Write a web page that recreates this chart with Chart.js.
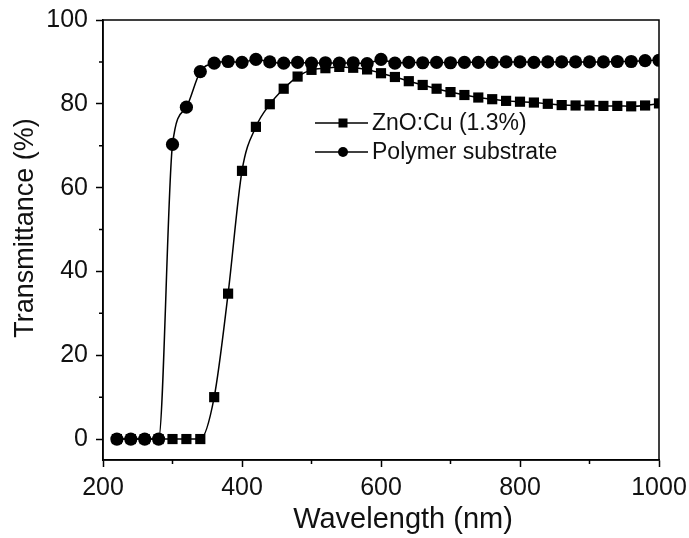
<!DOCTYPE html>
<html>
<head>
<meta charset="utf-8">
<script src="https://cdn.jsdelivr.net/npm/chart.js@4.4.1/dist/chart.umd.min.js"></script>
<style>
  html,body{margin:0;padding:0;background:#fff;}
  #wrap{width:689px;height:538px;}
</style>
</head>
<body>
<div id="wrap"><canvas id="c" width="689" height="538"></canvas></div>
<script>
/* ── data ── */
const wavelength = [220,240,260,280,300,320,340,360,380,400,420,440,460,480,500,520,540,560,580,600,
                    620,640,660,680,700,720,740,760,780,800,820,840,860,880,900,920,940,960,980,1000];
const znoCu   = [0,0,0,0,0,0,0,10.0,34.7,64.0,74.5,79.9,83.6,86.5,88.1,88.5,88.8,88.6,88.2,87.3,
                 86.4,85.4,84.5,83.6,82.8,82.1,81.5,81.1,80.7,80.5,80.3,80.0,79.7,79.6,79.6,79.5,79.5,79.4,79.6,80.1];
const polymer = [0,0,0,0,70.3,79.2,87.7,89.7,90.1,89.9,90.6,90.0,89.7,89.9,89.7,89.8,89.7,89.8,89.6,90.6,
                 89.7,89.9,89.8,89.9,89.8,89.9,89.9,89.9,90.0,90.0,89.9,90.0,90.0,90.0,90.0,90.0,90.1,90.1,90.3,90.4];
const seriesNames = ['ZnO:Cu (1.3%)','Polymer substrate'];
const xTicks = [200,400,600,800,1000];
const xMinor = [300,500,700,900];
const yTicks = [0,20,40,60,80,100];
const yMinor = [10,30,50,70,90];
const xTitle = 'Wavelength (nm)';
const yTitle = 'Transmittance (%)';

const FONT = '"Liberation Sans", Arial, sans-serif';
const INK  = '#111';

const pts = arr => wavelength.map((w,i)=>({x:w, y:arr[i]}));

/* ── frame, minor ticks, titles, legend ── */
const decor = {
  id:'decor',
  afterDraw(chart){
    const {ctx, chartArea:a, scales:{x, y}} = chart;
    ctx.save();
    ctx.strokeStyle='#000'; ctx.lineWidth=1.5;
    ctx.strokeRect(a.left, a.top, a.right-a.left, a.bottom-a.top);
    // minor ticks
    ctx.beginPath();
    yMinor.forEach(v=>{ const p=y.getPixelForValue(v); ctx.moveTo(a.left,p); ctx.lineTo(a.left-4,p); });
    xMinor.forEach(v=>{ const p=x.getPixelForValue(v); ctx.moveTo(p,a.bottom); ctx.lineTo(p,a.bottom+4); });
    ctx.stroke();

    // axis titles
    ctx.fillStyle=INK;
    ctx.font=`29px ${FONT}`; ctx.textAlign='center'; ctx.textBaseline='middle';
    ctx.fillText(xTitle, (a.left+a.right)/2+22, 520);
    ctx.save();
    ctx.translate(26, (a.top+a.bottom)/2-12);
    ctx.rotate(-Math.PI/2);
    ctx.font=`27px ${FONT}`;
    ctx.fillText(yTitle, 0, 0);
    ctx.restore();

    // legend
    const rows=[{y:123, style:'rect'},{y:152, style:'circle'}];
    ctx.font=`23px ${FONT}`; ctx.textAlign='left'; ctx.textBaseline='middle';
    rows.forEach((r,i)=>{
      ctx.beginPath(); ctx.moveTo(315,r.y); ctx.lineTo(368,r.y); ctx.lineWidth=1.5; ctx.stroke();
      ctx.fillStyle='#000';
      if(r.style==='rect') ctx.fillRect(343-4.5, r.y-4.5, 9, 9);
      else { ctx.beginPath(); ctx.arc(343, r.y, 5, 0, Math.PI*2); ctx.fill(); }
      ctx.fillStyle=INK;
      ctx.fillText(seriesNames[i], 372, r.y+1);
    });
    ctx.restore();
  }
};

new Chart(document.getElementById('c'),{
  type:'line',
  data:{datasets:[
    {label:seriesNames[1], data:pts(polymer), order:0, borderColor:'#000', backgroundColor:'#000', borderWidth:1.5,
     pointStyle:'circle', pointRadius:6.6, pointBorderWidth:0, cubicInterpolationMode:'monotone'},
    {label:seriesNames[0], data:pts(znoCu), order:1, borderColor:'#000', backgroundColor:'#000', borderWidth:1.5,
     pointStyle:'rect', pointRadius:7.2, pointBorderWidth:0, cubicInterpolationMode:'monotone'}
  ]},
  options:{
    responsive:false, animation:false, devicePixelRatio:1,
    layout:{padding:{top:20, right:30, left:0, bottom:0}},
    plugins:{legend:{display:false}, tooltip:{enabled:false}},
    scales:{
      x:{type:'linear', min:200, max:1000,
         afterBuildTicks:s=>{ s.ticks=xTicks.map(v=>({value:v})); },
         afterFit:s=>{ s.height=78; s.paddingLeft=0; s.paddingRight=0; },
         grid:{drawOnChartArea:false, tickLength:7, tickColor:'#000', tickWidth:1.5},
         border:{color:'#000', width:1.5},
         ticks:{color:INK, font:{family:FONT, size:25}, padding:6, maxRotation:0, callback:v=>String(v)}},
      y:{min:-5, max:100,
         afterBuildTicks:s=>{ s.ticks=yTicks.map(v=>({value:v})); },
         afterFit:s=>{ s.width=103; s.paddingTop=0; s.paddingBottom=0; },
         grid:{drawOnChartArea:false, tickLength:7, tickColor:'#000', tickWidth:1.5},
         border:{color:'#000', width:1.5},
         ticks:{color:INK, font:{family:FONT, size:25}, padding:8, callback:v=>String(v)}}
    }
  },
  plugins:[decor]
});
</script>
</body>
</html>
